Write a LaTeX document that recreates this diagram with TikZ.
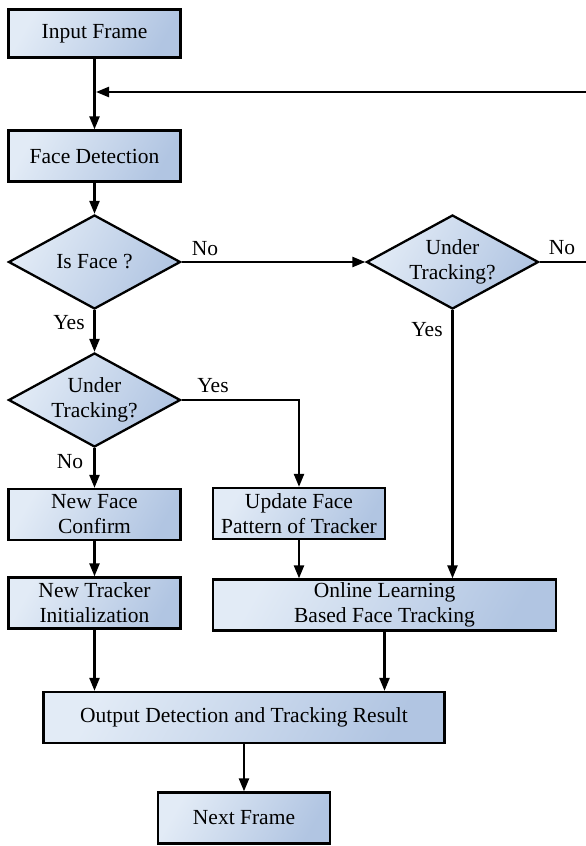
\documentclass[tikz,border=0pt]{standalone}
\usepackage{fontspec}
\setmainfont{Liberation Serif}
\usetikzlibrary{arrows.meta,shapes.geometric}
\definecolor{boxlight}{HTML}{E2EBF6}
\definecolor{boxdark}{HTML}{B1C5E2}

\begin{document}
\begin{tikzpicture}[x=1pt,y=-1pt,>={Triangle[length=13pt,width=10pt]},
    every node/.style={font=\fontsize{21.5}{25}\selectfont},
    block/.style={rectangle,draw,line width=2.3pt,left color=boxlight,right color=boxdark,shading angle=60,
      minimum width=172pt,minimum height=51pt,align=center,inner sep=0pt},
    decision/.style={diamond,draw,line width=2.3pt,left color=boxlight,right color=boxdark,shading angle=60,
      aspect=1.83,minimum width=172pt,minimum height=94pt,inner sep=0pt,align=center},
    flow/.style={line width=2.3pt,->}]
          \useasboundingbox (0,0) rectangle (586,846);
          \node[block,minimum height=48pt] (input) at (94.5,33.5) {Input Frame};
          \node[block] (facedet) at (94.5,156) {Face Detection};
          \node[decision] (isface) at (94.5,262) {Is Face ?};
          \node[decision] (trackR) at (452.5,262) {Under\\Tracking?};
          \node[decision] (trackL) at (94.5,400) {Under\\Tracking?};
          \node[block] (newface) at (94.5,514.5) {New Face\\Confirm};
          \node[block] (update) at (299,513.5) {Update Face\\Pattern of Tracker};
          \node[block] (newtrk) at (94.5,603) {New Tracker\\Initialization};
          \node[block,minimum width=343pt] (online) at (384.5,605) {Online Learning\\Based Face Tracking};
          \node[block,minimum width=401pt] (output) at (244,717.5) {Output Detection and Tracking Result};
          \node[block] (next) at (244,818) {Next Frame};
          \node (noA) at (205,249) {No};
          \node (noB) at (562,248) {No};
          \node (yesA) at (69,323) {Yes};
          \node (yesB) at (427,330) {Yes};
          \node (yesC) at (213,386) {Yes};
          \node (noC) at (70,462) {No};
          \coordinate (join) at (96,92);
          \coordinate (edge) at (588,262);
          \draw[flow] (input) -- (facedet);
          \draw[flow] (facedet) -- (isface);
          \draw[flow] (isface) -- (trackR);
          \draw[flow] (isface) -- (trackL);
          \draw[flow] (trackL) -- (newface);
          \draw[flow] (newface) -- (newtrk);
          \draw[flow] (trackL.east) -| (update.north);
          \draw[flow] (update.south) -- (update.south |- online.north);
          \draw[flow] (trackR.south) -- (trackR.south |- online.north);
          \draw[flow] (newtrk.south) -- (newtrk.south |- output.north);
          \draw[flow] (online.south) -- (online.south |- output.north);
          \draw[flow] (output) -- (next);
          \draw[flow] (trackR.east) -- (edge) |- (join);
        \end{tikzpicture}
\end{document}
